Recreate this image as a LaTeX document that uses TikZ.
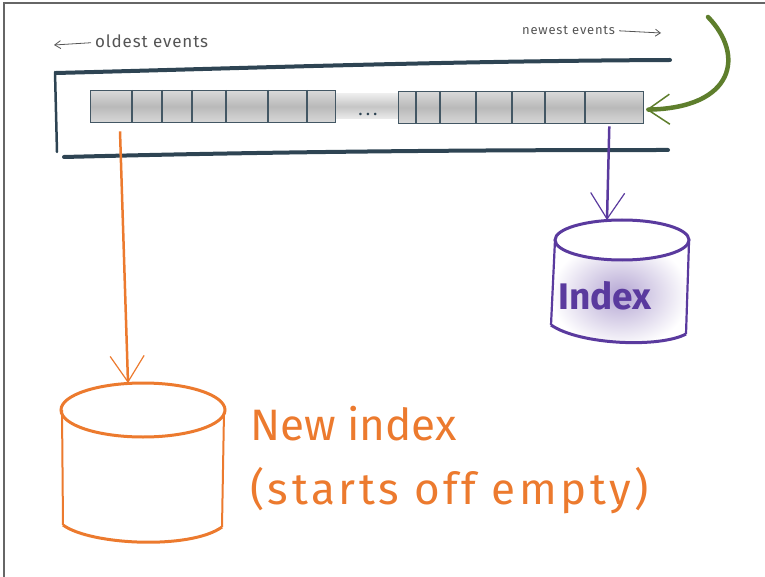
\documentclass[tikz,border=0pt]{standalone}
\usepackage{fontspec}
\setmainfont{Fira Sans}
\usetikzlibrary{arrows.meta,calc}
\definecolor{slate}{HTML}{2E4453}
\definecolor{orng}{HTML}{EC7A2E}
\definecolor{purp}{HTML}{5A3A9E}
\definecolor{olive}{HTML}{5E7E2C}
\definecolor{lbl}{HTML}{555555}
\begin{document}
\begin{tikzpicture}[x=1pt,y=-1pt,
  tube/.style={draw=slate, line width=4pt, line cap=round},
  blockbox/.style={draw=slate!90, line width=1.3pt, top color=gray!30, bottom color=gray!30, middle color=gray!55, inner sep=0pt, anchor=north west},
  divider/.style={draw=slate!90, line width=1.1pt},
  labeltext/.style={text=lbl, inner sep=0pt},
  barb/.style={-{Straight Barb[length=26pt,width=34pt,line width=1.2pt]}, line width=2.5pt},
  hand/.style={text=orng, inner sep=0pt, anchor=base west}
]
\useasboundingbox (0,0) rectangle (765,577);
% frame
\draw[gray!80!black, line width=1.5pt] (4,577) -- (4,3) -- (765,3);

% labels
\node[labeltext, anchor=base west, font=\fontsize{17}{19}\selectfont\addfontfeatures{LetterSpace=5}] (oldest) at (95,48) {oldest events};
\coordinate (oldArrowEnd) at (54,45);
\draw[lbl, line width=0.8pt, -{Straight Barb[length=6pt,width=8pt]}] ($(oldest.west)+(-4,1)$) -- (oldArrowEnd);
\node[labeltext, anchor=base west, font=\fontsize{13}{15}\selectfont\addfontfeatures{LetterSpace=6}] (newest) at (522,35) {newest events};
\coordinate (newArrowEnd) at (661,33);
\draw[lbl, line width=0.8pt, -{Straight Barb[length=5pt,width=7pt]}] ($(newest.east)+(4,0)$) -- (newArrowEnd);

% tube
\draw[tube] (56,73) .. controls (250,68) and (450,61) .. (670,60);
\draw[tube] (64,157) .. controls (300,151) and (500,150) .. (668,150);
\draw[tube, line width=2.5pt] (55,72) -- (57,152);

% gap between blocks
\shade[top color=gray!15, bottom color=gray!15, middle color=gray!45] (333,94) rectangle (400,119);
\node[text=slate, font=\bfseries\fontsize{14}{14}\selectfont, inner sep=0pt] (dots) at (368,114) {.\hspace{4pt}.\hspace{4pt}.};

% blocks
\node[blockbox, minimum width=245pt, minimum height=32pt] (blockL) at (90,90) {};
\foreach \x in {132,162,192,226,268,307}
  \draw[divider] (\x,90) -- (\x,122);
\node[blockbox, minimum width=245pt, minimum height=32pt] (blockR) at (398,91) {};
\foreach \x in {416,440,476,512,545,585}
  \draw[divider] (\x,91) -- (\x,123);

% green arrow
\coordinate (greenStart) at (708,17);
\draw[olive, line width=4.5pt, line cap=round, -{Straight Barb[length=22pt,width=30pt,line width=1.5pt]}]
  (greenStart) .. controls (745,55) and (735,108) .. ($(blockR.east)+(2,2)$);

% orange cylinder
\coordinate (newTop) at (128,383);
\fill[white] (62,410) -- (63,523) arc[start angle=180,end angle=360,x radius=80,y radius=22] -- (224,410) -- cycle;
\draw[orng, line width=2pt] (62,410) -- (63,525);
\draw[orng, line width=2pt] (224,412) -- (222,527);
\draw[orng, line width=3pt] (63,525) .. controls (90,545) and (190,550) .. (222,527);
\draw[orng, line width=3pt] (143,410) ellipse[x radius=82, y radius=27];

% purple cylinder
\coordinate (idxTop) at (607,220);
\shade[inner color=purp!45, outer color=white] (554,241) -- (551,325) .. controls (580,345) and (660,348) .. (686,333) -- (689,241) arc[start angle=0,end angle=180,x radius=67.5,y radius=20] -- cycle;
\draw[purp, line width=2.2pt] (555,240) -- (551,325);
\draw[purp, line width=2.2pt] (689,242) -- (686,334);
\draw[purp, line width=3pt] (551,325) .. controls (580,345) and (660,348) .. (686,334);
\draw[purp, line width=3pt] (622,240) ellipse[x radius=67, y radius=20];
\node[text=purp, font=\bfseries\fontsize{37}{39}\selectfont, inner sep=0pt] (idxText) at (605,296) {Index};

% arrows down
\draw[orng, barb] ($(blockL.south west)+(30,8)$) -- (newTop);
\draw[purp, barb] ($(blockR.south east)+(-35,2)$) -- (idxTop);

% orange text
\node[hand, font=\fontsize{44}{50}\selectfont] (newLine1) at (250,440) {New index};
\node[hand, font=\fontsize{44}{50}\selectfont\addfontfeatures{LetterSpace=8}] (newLine2) at (250,504) {(starts off empty)};
\end{tikzpicture}
\end{document}
